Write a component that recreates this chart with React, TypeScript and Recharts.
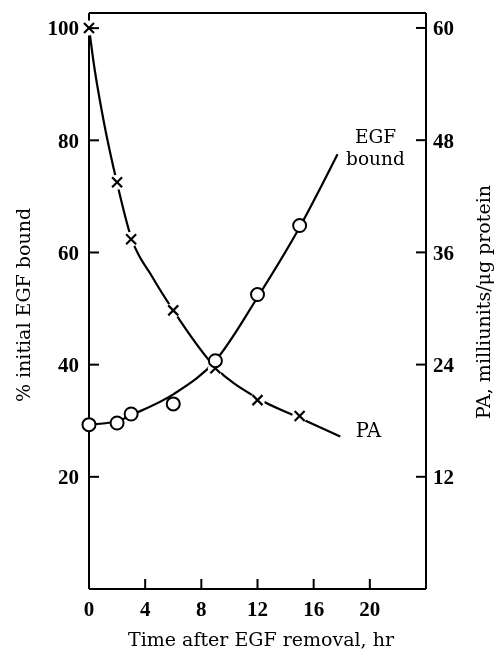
import React from 'react';
import {
  ComposedChart, Line, Scatter, XAxis, YAxis, ReferenceLine, ReferenceDot,
} from 'recharts';

// measured points (hr after EGF removal)
const sampleTimes = [0, 2, 3, 6, 9, 12, 15];
const egfBound = [29.3, 29.6, 31.2, 33, 40.7, 52.5, 64.8]; // % initial EGF bound
const paActivity = [60, 43.5, 37.4, 29.8, 23.6, 20.2, 18.5]; // milliunits/ug protein

// hand-drawn fitted curves
const egfCurveTimes = [0, 2, 3, 6, 9, 12, 15, 17.7];
const egfCurve = [29.3, 29.9, 31, 34.7, 40.7, 52, 64.5, 77.5];
const paCurveTimes = [0, 0.3, 1, 2, 3, 4.5, 6, 9, 12, 15, 17.9];
const paCurve = [60, 56.6, 50.4, 43.4, 37.6, 33.4, 29.8, 23.7, 20.4, 18.3, 16.3];

const xTicks = [0, 4, 8, 12, 16, 20];
const leftTicks = [20, 40, 60, 80, 100];
const rightTicks = [12, 24, 36, 48, 60];

const LEFT_MAX = 102.7;
const RIGHT_MAX = 61.6;

const zip = (ts: number[], vs: number[]) => ts.map((t, i) => ({ t, v: vs[i] }));

const egfPoints = zip(sampleTimes, egfBound);
const paPoints = zip(sampleTimes, paActivity);
const egfLine = zip(egfCurveTimes, egfCurve);
const paLine = zip(paCurveTimes, paCurve);

const tickFont = { fontFamily: '"Liberation Serif", serif', fontWeight: 700, fontSize: 21, fill: '#000' };
const titleFont = { fontFamily: '"DejaVu Serif", serif', fontSize: 19, fill: '#000' };

const LeftTick = (props: any) => {
  const { x, y, payload } = props;
  return (
    <g>
      <line x1={x} x2={x + 10} y1={y} y2={y} stroke="#000" strokeWidth={2} />
      <text x={x - 10} y={y} dy="0.35em" textAnchor="end" {...tickFont}>{payload.value}</text>
    </g>
  );
};

const RightTick = (props: any) => {
  const { x, y, payload } = props;
  return (
    <g>
      <line x1={x} x2={x - 10} y1={y} y2={y} stroke="#000" strokeWidth={2} />
      <text x={x + 7} y={y} dy="0.35em" textAnchor="start" {...tickFont}>{payload.value}</text>
    </g>
  );
};

const BottomTick = (props: any) => {
  const { x, y, payload } = props;
  return (
    <g>
      <line x1={x} x2={x} y1={y} y2={y - 10} stroke="#000" strokeWidth={2} />
      <text x={x} y={y + 20} dy="0.35em" textAnchor="middle" {...tickFont}>{payload.value}</text>
    </g>
  );
};

const Circle = (props: any) => {
  const { cx, cy } = props;
  return <circle cx={cx} cy={cy} r={6.5} fill="#fff" stroke="#000" strokeWidth={2} />;
};

const Cross = (props: any) => {
  const { cx, cy } = props;
  const s = 5;
  return (
    <g>
      <circle cx={cx} cy={cy} r={7.5} fill="#fff" />
      <line x1={cx - s} y1={cy - s} x2={cx + s} y2={cy + s} stroke="#000" strokeWidth={2.2} />
      <line x1={cx - s} y1={cy + s} x2={cx + s} y2={cy - s} stroke="#000" strokeWidth={2.2} />
    </g>
  );
};

const seriesLabel = (lines: string[], size: number) => (props: any) => {
  const { viewBox } = props;
  const cx = viewBox.x + viewBox.width / 2;
  const cy = viewBox.y + viewBox.height / 2;
  return (
    <text x={cx} y={cy} textAnchor="middle" fontFamily='"DejaVu Serif", serif' fontSize={size} fill="#000">
      {lines.map((l, i) => (
        <tspan key={l} x={cx} y={cy + i * 22} dy="0.35em">{l}</tspan>
      ))}
    </text>
  );
};

export default function App() {
  return (
    <div style={{ position: 'fixed', left: 0, top: 0 }}>
      <ComposedChart width={496} height={652} margin={{ top: 13, right: 0, bottom: 0, left: 0 }}>
        <XAxis
          dataKey="t"
          type="number"
          domain={[0, 24]}
          ticks={xTicks}
          height={63}
          tickSize={0}
          tickMargin={0}
          tickLine={false}
          tick={<BottomTick />}
          axisLine={{ stroke: '#000', strokeWidth: 2 }}
          label={(p: any) => (
            <text x={p.viewBox.x + 172} y={p.viewBox.y + 50} textAnchor="middle" dy="0.35em" {...titleFont}>
              Time after EGF removal, hr
            </text>
          )}
        />
        <YAxis
          yAxisId="left"
          type="number"
          domain={[0, LEFT_MAX]}
          ticks={leftTicks}
          width={89}
          tickSize={0}
          tickMargin={0}
          tickLine={false}
          tick={<LeftTick />}
          axisLine={{ stroke: '#000', strokeWidth: 2 }}
          label={(p: any) => {
            const cx = p.viewBox.x + 23;
            const cy = p.viewBox.y + p.viewBox.height / 2 + 4;
            return (
              <text x={cx} y={cy} textAnchor="middle" dy="0.35em" transform={`rotate(-90 ${cx} ${cy})`} {...titleFont}>
                % initial EGF bound
              </text>
            );
          }}
        />
        <YAxis
          yAxisId="right"
          orientation="right"
          type="number"
          domain={[0, RIGHT_MAX]}
          ticks={rightTicks}
          width={70}
          tickSize={0}
          tickMargin={0}
          tickLine={false}
          tick={<RightTick />}
          axisLine={{ stroke: '#000', strokeWidth: 2 }}
          label={(p: any) => {
            const cx = p.viewBox.x + 57;
            const cy = p.viewBox.y + p.viewBox.height / 2 + 1;
            return (
              <text x={cx} y={cy} textAnchor="middle" dy="0.35em" transform={`rotate(-90 ${cx} ${cy})`} {...titleFont}>
                PA, milliunits/μg protein
              </text>
            );
          }}
        />
        <ReferenceLine yAxisId="left" y={LEFT_MAX} stroke="#000" strokeWidth={2} />

        <Line yAxisId="left" data={egfLine} dataKey="v" type="monotone" stroke="#000" strokeWidth={2.2} dot={false} activeDot={false} isAnimationActive={false} />
        <Line yAxisId="right" data={paLine} dataKey="v" type="monotone" stroke="#000" strokeWidth={2.2} dot={false} activeDot={false} isAnimationActive={false} />
        <Scatter yAxisId="right" data={paPoints} dataKey="v" shape={<Cross />} isAnimationActive={false} />
        <Scatter yAxisId="left" data={egfPoints} dataKey="v" shape={<Circle />} isAnimationActive={false} />

        <ReferenceDot yAxisId="left" x={20.4} y={80.6} r={0} stroke="none" label={seriesLabel(['EGF', 'bound'], 18.5)} />
        <ReferenceDot yAxisId="right" x={19.9} y={17.0} r={0} stroke="none" label={seriesLabel(['PA'], 19.5)} />
      </ComposedChart>
    </div>
  );
}
